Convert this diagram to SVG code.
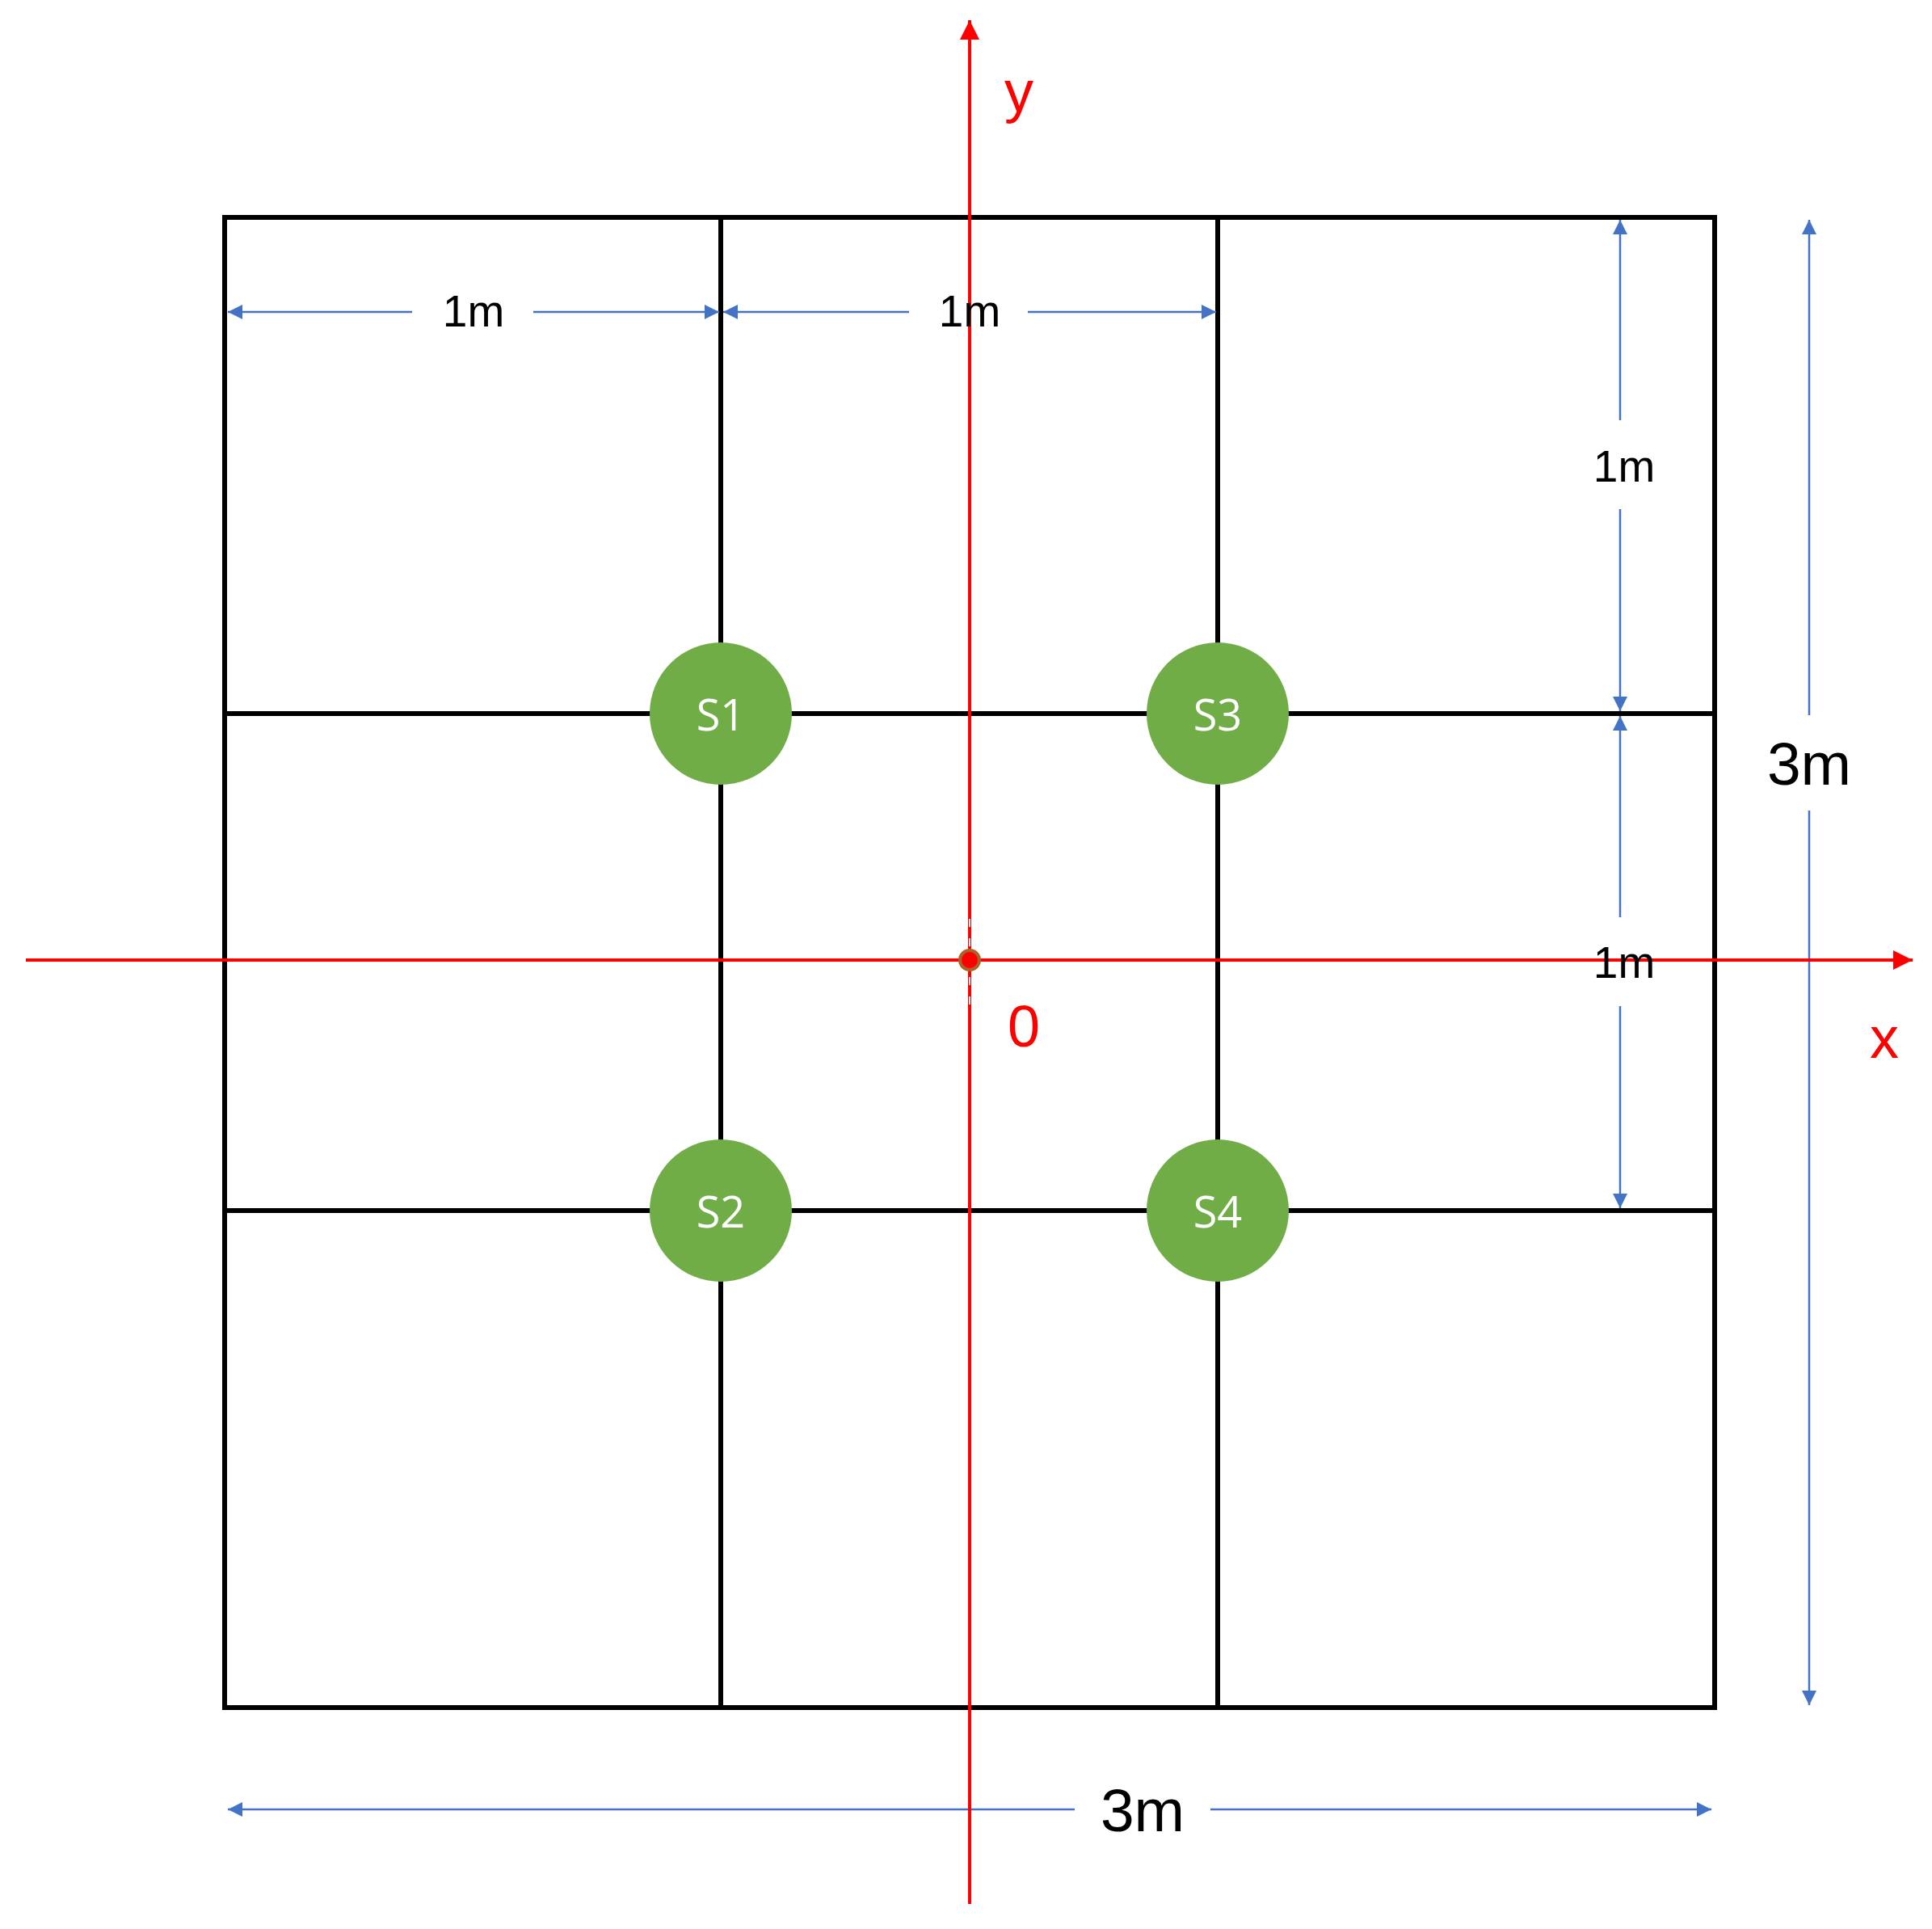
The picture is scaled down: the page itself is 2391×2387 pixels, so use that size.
<svg xmlns="http://www.w3.org/2000/svg" width="2391" height="2387" viewBox="0 0 2391 2387">
<style>
.g{stroke:#000;stroke-width:6;fill:none}
.d{stroke:#4472C4;stroke-width:2.5;fill:none}
.ax{stroke:#FF0000;stroke-width:4;fill:none}
.t{font-family:"Liberation Sans",Arial,sans-serif;text-anchor:middle;dominant-baseline:central}
.s circle{fill:#70AD47}
.s text{font-family:"Open Sans","Liberation Sans",sans-serif;font-size:54px;fill:#fff;text-anchor:middle;dominant-baseline:central}
</style>
<defs>
<marker id="ba" viewBox="0 0 10 10" refX="10" refY="5" markerWidth="22" markerHeight="18" markerUnits="userSpaceOnUse" orient="auto-start-reverse"><path d="M0,0L10,5L0,10z" fill="#4472C4"/></marker>
<marker id="ra" viewBox="0 0 10 10" refX="10" refY="5" markerWidth="6" markerHeight="6" orient="auto"><path d="M0,0L10,5L0,10z" fill="#FF0000"/></marker>
</defs>
<rect width="2391" height="2387" fill="#fff"/>
<g id="grid">
<rect x="278" y="269" width="1844" height="1844" class="g"/>
<line x1="892" y1="269" x2="892" y2="2113" class="g" stroke-width="4.5"/>
<line x1="1507" y1="269" x2="1507" y2="2113" class="g" stroke-width="4.5"/>
<line x1="278" y1="883" x2="2122" y2="883" class="g" stroke-width="4.5"/>
<line x1="278" y1="1498" x2="2122" y2="1498" class="g" stroke-width="4.5"/>
</g>
<g id="connectors">
<line x1="282" y1="386" x2="510" y2="386" class="d" marker-start="url(#ba)"/>
<line x1="660" y1="386" x2="890" y2="386" class="d" marker-end="url(#ba)"/>
<line x1="895" y1="386" x2="1125" y2="386" class="d" marker-start="url(#ba)"/>
<line x1="1272" y1="386" x2="1505" y2="386" class="d" marker-end="url(#ba)"/>
<line x1="2005" y1="272" x2="2005" y2="520" class="d" marker-start="url(#ba)"/>
<line x1="2005" y1="630" x2="2005" y2="880" class="d" marker-end="url(#ba)"/>
<line x1="2005" y1="886" x2="2005" y2="1135" class="d" marker-start="url(#ba)"/>
<line x1="2005" y1="1245" x2="2005" y2="1495" class="d" marker-end="url(#ba)"/>
<line x1="2239" y1="272" x2="2239" y2="2110" class="d" marker-start="url(#ba)" marker-end="url(#ba)"/>
<line x1="282" y1="2239" x2="2118" y2="2239" class="d" marker-start="url(#ba)" marker-end="url(#ba)"/>
<line x1="1200" y1="2356" x2="1200" y2="25" class="ax" marker-end="url(#ra)"/>
<line x1="32" y1="1188" x2="2367" y2="1188" class="ax" marker-end="url(#ra)"/>
<line x1="1200" y1="1137" x2="1200" y2="1243" stroke="#fff" stroke-width="2" stroke-dasharray="10 14"/>
<circle cx="1200" cy="1188" r="12" fill="#FF0000" stroke="#B0602A" stroke-width="4"/>
</g>
<g id="labels">
<text x="586" y="385" class="t" font-size="55">1m</text>
<text x="1200" y="385" class="t" font-size="55">1m</text>
<text x="2010" y="577" class="t" font-size="55">1m</text>
<text x="2010" y="1191" class="t" font-size="55">1m</text>
<rect x="2165" y="885" width="148" height="118" fill="#fff"/>
<text x="2239" y="945" class="t" font-size="75">3m</text>
<rect x="1330" y="2182" width="168" height="114" fill="#fff"/>
<text x="1414" y="2240" class="t" font-size="75">3m</text>
<text x="1261" y="113" class="t" font-size="72" fill="#FF0000">y</text>
<text x="1267" y="1270" class="t" font-size="72" fill="#FF0000">0</text>
<text x="2332" y="1284" class="t" font-size="72" fill="#FF0000">x</text>
</g>
<g id="S1" class="s"><circle cx="892" cy="883" r="88"/><text x="892" y="883">S1</text></g>
<g id="S3" class="s"><circle cx="1507" cy="883" r="88"/><text x="1507" y="883">S3</text></g>
<g id="S2" class="s"><circle cx="892" cy="1498" r="88"/><text x="892" y="1498">S2</text></g>
<g id="S4" class="s"><circle cx="1507" cy="1498" r="88"/><text x="1507" y="1498">S4</text></g>
</svg>
